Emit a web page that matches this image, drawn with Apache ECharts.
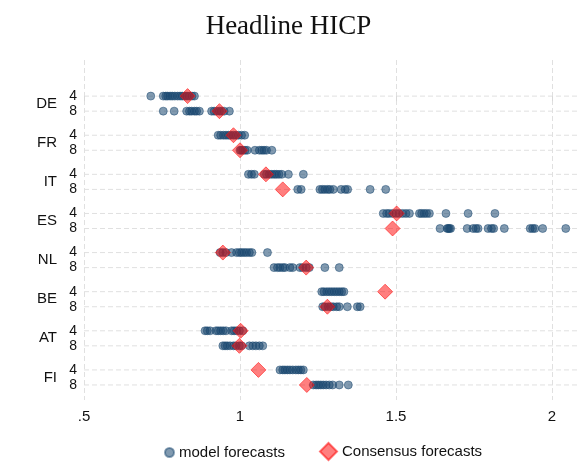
<!DOCTYPE html>
<html><head><meta charset="utf-8">
<script src="https://cdn.jsdelivr.net/npm/echarts/dist/echarts.min.js"></script>
<style>html,body{margin:0;padding:0;background:#fff}#c{width:577px;height:476px}</style>
</head><body><div id="c"></div>
<script>
const countries = ['DE','FR','IT','ES','NL','BE','AT','FI'];
const horizons = ['4','8'];
const xTicks = [0.5, 1, 1.5, 2];
const xTickLabels = ['.5', '1', '1.5', '2'];

const modelDE4 = [0.714, 0.754, 0.762, 0.768, 0.776, 0.783, 0.791, 0.80, 0.808, 0.815, 0.823, 0.83, 0.838, 0.846, 0.854];
const modelDE8 = [0.754, 0.789, 0.829, 0.838, 0.845, 0.854, 0.861, 0.87, 0.909, 0.917, 0.925, 0.934, 0.941, 0.949, 0.966];
const modelFR4 = [0.930, 0.938, 0.947, 0.955, 0.963, 0.970, 0.979, 0.987, 0.995, 1.005, 1.015];
const modelFR8 = [1.0, 1.004, 1.009, 1.016, 1.023, 1.048, 1.062, 1.07, 1.077, 1.085, 1.102];
const modelIT4 = [1.027, 1.037, 1.046, 1.078, 1.085, 1.094, 1.102, 1.11, 1.117, 1.125, 1.134, 1.155, 1.203];
const modelIT8 = [1.185, 1.196, 1.256, 1.264, 1.272, 1.281, 1.288, 1.299, 1.324, 1.337, 1.345, 1.417, 1.467];
const modelES4 = [1.459, 1.470, 1.478, 1.489, 1.5, 1.51, 1.521, 1.532, 1.543, 1.575, 1.582, 1.59, 1.598, 1.607, 1.66, 1.731, 1.817];
const modelES8 = [1.641, 1.664, 1.667, 1.671, 1.675, 1.728, 1.747, 1.756, 1.763, 1.795, 1.806, 1.813, 1.847, 1.93, 1.938, 1.945, 1.97, 2.044];
const modelNL4 = [0.936, 0.945, 0.955, 0.973, 0.989, 0.998, 1.005, 1.013, 1.021, 1.03, 1.038, 1.088];
const modelNL8 = [1.109, 1.12, 1.128, 1.137, 1.144, 1.16, 1.169, 1.192, 1.201, 1.212, 1.222, 1.272, 1.318];
const modelBE4 = [1.262, 1.269, 1.278, 1.286, 1.294, 1.302, 1.31, 1.318, 1.326, 1.333];
const modelBE8 = [1.265, 1.272, 1.283, 1.291, 1.299, 1.31, 1.318, 1.344, 1.376, 1.385];
const modelAT4 = [0.888, 0.895, 0.904, 0.923, 0.93, 0.938, 0.946, 0.955, 0.973, 0.981, 0.989, 0.998, 1.009];
const modelAT8 = [0.945, 0.952, 0.959, 0.968, 0.979, 0.987, 0.998, 1.005, 1.03, 1.041, 1.051, 1.062, 1.073];
const modelFI4 = [1.128, 1.137, 1.144, 1.152, 1.16, 1.169, 1.179, 1.187, 1.195, 1.203];
const modelFI8 = [1.235, 1.244, 1.251, 1.259, 1.267, 1.276, 1.286, 1.297, 1.318, 1.347];

const consensus4 = [0.832, 0.979, 1.083, 1.502, 0.945, 1.465, 1.002, 1.059];
const consensus8 = [0.934, 1.0, 1.137, 1.489, 1.212, 1.28, 0.998, 1.214];

const model4 = [modelDE4, modelFR4, modelIT4, modelES4, modelNL4, modelBE4, modelAT4, modelFI4];
const model8 = [modelDE8, modelFR8, modelIT8, modelES8, modelNL8, modelBE8, modelAT8, modelFI8];

// row layout on a numeric y axis (one unit = distance between horizon 4 and 8 rows)
const STEP = 2.6;
const rowPos = (ci, hi) => ci * STEP + hi;
const r1 = v => Math.round(v * 10) / 10;

const modelData = [];
const consData = [];
const rowData = [];
countries.forEach((c, ci) => {
  model4[ci].forEach(v => modelData.push([v, rowPos(ci, 0)]));
  model8[ci].forEach(v => modelData.push([v, rowPos(ci, 1)]));
  consData.push([consensus4[ci], rowPos(ci, 0)]);
  consData.push([consensus8[ci], rowPos(ci, 1)]);
  horizons.forEach((h, hi) => rowData.push([1, rowPos(ci, hi)]));
});

const FONT = 'Liberation Sans, Arial, sans-serif';
const yBase = { type: 'value', position: 'left', offset: 0, inverse: true, min: -2.4, max: 20.2, interval: 0.1,
  axisLine: { show: false }, axisTick: { show: false }, splitLine: { show: false } };

const chart = echarts.init(document.getElementById('c'), null, { renderer: 'canvas' });
chart.setOption({
  animation: false,
  backgroundColor: '#fff',
  title: { text: 'Headline HICP', left: 'center', top: 8,
    textStyle: { fontFamily: 'Liberation Serif, Times New Roman, serif', fontSize: 27, fontWeight: 'normal', color: '#111' } },
  grid: { left: 84, right: 0, top: 60, bottom: 76, containLabel: false, outerBoundsMode: 'none' },
  xAxis: { type: 'value', min: 0.5, max: 2.08, interval: 0.5,
    axisLine: { show: false },
    axisTick: { show: true, length: 5, lineStyle: { color: '#d8d8d8' } },
    axisLabel: { showMaxLabel: false, margin: 9, fontSize: 15, color: '#111', fontFamily: FONT,
      formatter: v => { const i = xTicks.findIndex(t => Math.abs(t - v) < 1e-6); return i >= 0 ? xTickLabels[i] : ''; } },
    splitLine: { show: true, showMaxLine: false, lineStyle: { color: '#e0e0e0', type: [5, 3], width: 1 } } },
  yAxis: [
    Object.assign({}, yBase, { axisLabel: { margin: 7, fontSize: 14, color: '#111', fontFamily: FONT,
      formatter: v => { for (let ci = 0; ci < countries.length; ci++) for (let hi = 0; hi < 2; hi++) if (r1(v) === r1(rowPos(ci, hi))) return horizons[hi]; return ''; } } }),
    Object.assign({}, yBase, { axisLabel: { margin: 27, fontSize: 15, color: '#111', fontFamily: FONT,
      formatter: v => { for (let ci = 0; ci < countries.length; ci++) if (r1(v) === r1(rowPos(ci, 0) + 0.5)) return countries[ci]; return ''; } } })
  ],
  legend: [
    { data: ['model forecasts'], left: 159, top: 440, itemWidth: 9, itemHeight: 9, itemGap: 5,
      textStyle: { fontSize: 15, color: '#111', fontFamily: FONT } },
    { data: ['Consensus forecasts'], left: 314, top: 437, itemWidth: 17, itemHeight: 17, itemGap: 5,
      textStyle: { fontSize: 15, color: '#111', fontFamily: FONT } }
  ],
  series: [
    { type: 'custom', name: 'gridrows', data: rowData, z: 0, silent: true, clip: false,
      renderItem: (params, api) => {
        const p = api.coord([api.value(0), api.value(1)]);
        const cs = params.coordSys;
        return { type: 'line', shape: { x1: cs.x, y1: p[1], x2: cs.x + cs.width, y2: p[1] },
          style: { stroke: '#e0e0e0', lineWidth: 1, lineDash: [5, 3] } };
      } },
    { type: 'scatter', name: 'model forecasts', data: modelData, symbol: 'circle', symbolSize: 8, z: 2,
      itemStyle: { color: 'rgba(26,71,111,0.55)', borderColor: 'rgba(26,71,111,0.5)', borderWidth: 1, opacity: 1 } },
    { type: 'scatter', name: 'Consensus forecasts', data: consData, symbol: 'diamond', symbolSize: 15, z: 3,
      itemStyle: { color: 'rgba(255,0,0,0.5)', borderColor: 'rgba(255,20,20,0.6)', borderWidth: 1, opacity: 1 } }
  ]
});
</script></body></html>
